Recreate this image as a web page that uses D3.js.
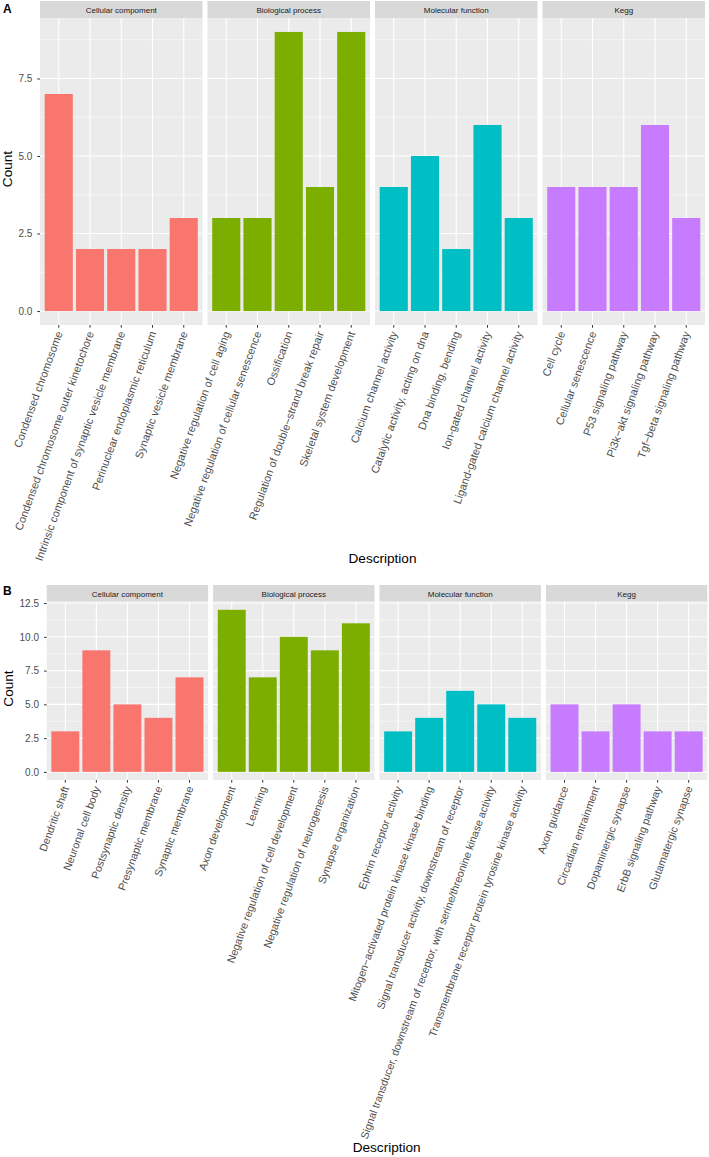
<!DOCTYPE html>
<html>
<head>
<meta charset="utf-8">
<script src="https://cdn.jsdelivr.net/npm/d3@7"></script>
<style>
  html, body { margin: 0; padding: 0; background: #fff; }
  svg { display: block; font-family: "Liberation Sans", Arial, Helvetica, sans-serif; }
</style>
</head>
<body>
<svg id="chart" width="709" height="1157"></svg>
<script>
// ---------- data ----------
const facetNames = ["Cellular compoment", "Biological process", "Molecular function", "Kegg"];
const facetColors = ["#F8766D", "#7CAE00", "#00BFC4", "#C77CFF"];

const aCategories = [
  ["Condensed chromosome", "Condensed chromosome outer kinetochore", "Intrinsic component of synaptic vesicle membrane", "Perinuclear endoplasmic reticulum", "Synaptic vesicle membrane"],
  ["Negative regulation of cell aging", "Negative regulation of cellular senescence", "Ossification", "Regulation of double\u2212strand break repair", "Skeletal system development"],
  ["Calcium channel activity", "Catalytic activity, acting on dna", "Dna binding, bending", "Ion-gated channel activity", "Ligand-gated calcium channel activity"],
  ["Cell cycle", "Cellular senescence", "P53 signaling pathway", "Pi3k\u2212akt signaling pathway", "Tgf\u2212beta signaling pathway"]
];
const aCounts = [
  [7, 2, 2, 2, 3],
  [3, 3, 9, 4, 9],
  [4, 5, 2, 6, 3],
  [4, 4, 4, 6, 3]
];
const aTicks = [0, 2.5, 5, 7.5];

const bCategories = [
  ["Dendritic shaft", "Neuronal cell body", "Postsynaptic density", "Presynaptic membrane", "Synaptic membrane"],
  ["Axon development", "Learning", "Negative regulation of cell development", "Negative regulation of neurogenesis", "Synapse organization"],
  ["Ephrin receptor activity", "Mitogen\u2212activated protein kinase kinase binding", "Signal transducer activity, downstream of receptor", "Signal transducer, downstream of receptor, with serine/threonine kinase activity", "Transmembrane receptor protein tyrosine kinase activity"],
  ["Axon guidance", "Circadian entrainment", "Dopaminergic synapse", "ErbB signaling pathway", "Glutamatergic synapse"]
];
const bCounts = [
  [3, 9, 5, 4, 7],
  [12, 7, 10, 9, 11],
  [3, 4, 6, 5, 4],
  [5, 3, 5, 3, 3]
];
const bTicks = [0, 2.5, 5, 7.5, 10, 12.5];

// ---------- drawing ----------
const svg = d3.select("#chart");

function drawFigure(cfg) {
  const g = svg.append("g");
  const nF = facetNames.length;
  const gap = 5;
  const pw = (cfg.right - cfg.left - gap * (nF - 1)) / nF;

  const dataMax = d3.max(cfg.counts.flat());
  const ex = dataMax * 0.05;
  const y = d3.scaleLinear().domain([-ex, dataMax + ex]).range([cfg.bottom, cfg.top]);

  // panel label (A / B)
  g.append("text").attr("x", 3).attr("y", cfg.letterY)
    .attr("font-size", 12).attr("font-weight", "bold").attr("fill", "#000").text(cfg.letter);

  // y title
  g.append("text")
    .attr("transform", `translate(${cfg.countX},${cfg.countY}) rotate(-90)`)
    .attr("text-anchor", "middle").attr("font-size", 13.6).attr("fill", "#000").text("Count");

  // x title
  g.append("text").attr("x", cfg.descX).attr("y", cfg.descY)
    .attr("text-anchor", "middle").attr("font-size", 13.6).attr("fill", "#000").text("Description");

  const minorTicks = [];
  for (let i = 0; i < cfg.ticks.length - 1; i++) minorTicks.push((cfg.ticks[i] + cfg.ticks[i + 1]) / 2);
  const lastMinor = cfg.ticks[cfg.ticks.length - 1] + 1.25;
  if (lastMinor < dataMax + ex) minorTicks.push(lastMinor);

  facetNames.forEach((fname, fi) => {
    const x0 = cfg.left + fi * (pw + gap);
    const x = d3.scaleBand().domain(cfg.cats[fi]).range([x0, x0 + pw])
      .paddingInner(0.1).paddingOuter(0.15);

    const pg = g.append("g");
    // strip
    pg.append("rect").attr("x", x0).attr("y", cfg.stripTop).attr("width", pw)
      .attr("height", cfg.top - cfg.stripTop).attr("fill", "#D9D9D9");
    pg.append("text").attr("x", x0 + pw / 2).attr("y", cfg.stripTextY)
      .attr("text-anchor", "middle").attr("font-size", 8).attr("fill", "#1A1A1A").text(fname);
    // panel background
    pg.append("rect").attr("x", x0).attr("y", cfg.top).attr("width", pw)
      .attr("height", cfg.bottom - cfg.top).attr("fill", "#EBEBEB");
    // minor grid
    pg.selectAll("line.minor").data(minorTicks).join("line").attr("class", "minor")
      .attr("x1", x0).attr("x2", x0 + pw).attr("y1", d => y(d)).attr("y2", d => y(d))
      .attr("stroke", "#fff").attr("stroke-width", 0.55);
    // major grid
    pg.selectAll("line.majy").data(cfg.ticks).join("line").attr("class", "majy")
      .attr("x1", x0).attr("x2", x0 + pw).attr("y1", d => y(d)).attr("y2", d => y(d))
      .attr("stroke", "#fff").attr("stroke-width", 1.1);
    pg.selectAll("line.majx").data(cfg.cats[fi]).join("line").attr("class", "majx")
      .attr("x1", d => x(d) + x.bandwidth() / 2).attr("x2", d => x(d) + x.bandwidth() / 2)
      .attr("y1", cfg.top).attr("y2", cfg.bottom)
      .attr("stroke", "#fff").attr("stroke-width", 1.1);
    // bars
    pg.selectAll("rect.bar").data(cfg.cats[fi].map((c, i) => ({ c, v: cfg.counts[fi][i] })))
      .join("rect").attr("class", "bar")
      .attr("x", d => x(d.c)).attr("width", x.bandwidth())
      .attr("y", d => y(d.v)).attr("height", d => y(0) - y(d.v))
      .attr("fill", facetColors[fi]);

    // x axis
    const xa = pg.append("g").attr("transform", `translate(0,${cfg.bottom})`)
      .call(d3.axisBottom(x).tickSize(2.7).tickSizeOuter(0));
    xa.select(".domain").remove();
    xa.selectAll(".tick line").attr("stroke", "#333").attr("stroke-width", 1);
    xa.selectAll(".tick text")
      .attr("x", 0).attr("y", 0).attr("dy", 0)
      .attr("transform", "translate(4,8) rotate(-70)")
      .attr("text-anchor", "end")
      .attr("font-size", cfg.xFont).attr("fill", "#4D4D4D")
      .attr("font-family", "Liberation Sans, Arial, sans-serif");

    // y axis only on first panel
    if (fi === 0) {
      const ya = pg.append("g").attr("transform", `translate(${x0},0)`)
        .call(d3.axisLeft(y).tickValues(cfg.ticks).tickFormat(d3.format(".1f"))
          .tickSize(2.7).tickPadding(5));
      ya.select(".domain").remove();
      ya.selectAll(".tick line").attr("stroke", "#333").attr("stroke-width", 1);
      ya.selectAll(".tick text").attr("font-size", 10).attr("fill", "#4D4D4D")
        .attr("font-family", "Liberation Sans, Arial, sans-serif");
    }
  });
}

drawFigure({
  letter: "A", letterY: 13,
  cats: aCategories, counts: aCounts, ticks: aTicks, xFont: 11.0,
  left: 40, right: 705, stripTop: 1, top: 18, bottom: 325, stripTextY: 12.7,
  countX: 11.5, countY: 169, descX: 382.5, descY: 563
});

drawFigure({
  letter: "B", letterY: 595,
  cats: bCategories, counts: bCounts, ticks: bTicks, xFont: 10.7,
  left: 46.7, right: 707.3, stripTop: 585, top: 601.7, bottom: 780, stripTextY: 596.5,
  countX: 12.7, countY: 688.5, descX: 386.7, descY: 1151.7
});
</script>
</body>
</html>
